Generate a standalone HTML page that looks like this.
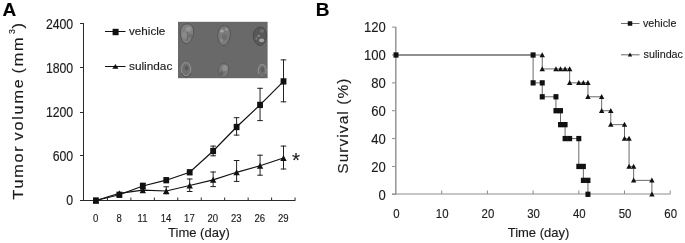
<!DOCTYPE html>
<html><head><meta charset="utf-8"><style>
html,body{margin:0;padding:0;background:#fff;}
svg{display:block;font-family:"Liberation Sans",sans-serif;filter:grayscale(1) blur(0.35px);}
text{stroke:#1c1c1c;stroke-width:0.15px;}
</style></head><body>
<svg width="685" height="243" viewBox="0 0 685 243">
<rect width="685" height="243" fill="#fff"/>
<text x="2.60" y="16.10" font-size="19" text-anchor="start" font-weight="bold" fill="#000">A</text>
<g transform="translate(23.4,199.6) rotate(-90) scale(1.05,1)">
<text x="0" y="0" font-size="15.4" fill="#1c1c1c" letter-spacing="1.72" word-spacing="-2.1">Tumor volume (mm<tspan font-size="8.4" dy="-8.4" dx="1.7">3</tspan><tspan dy="8.4" dx="-1.1">)</tspan></text>
</g>
<line x1="80.00" y1="23.50" x2="84.00" y2="23.50" stroke="#2a2a2a" stroke-width="1"/>
<text transform="translate(73.20,29.00) scale(0.890,1)" font-size="13.8" text-anchor="end" font-weight="normal" fill="#1c1c1c">2400</text>
<line x1="80.00" y1="67.50" x2="84.00" y2="67.50" stroke="#2a2a2a" stroke-width="1"/>
<text transform="translate(73.20,73.10) scale(0.890,1)" font-size="13.8" text-anchor="end" font-weight="normal" fill="#1c1c1c">1800</text>
<line x1="80.00" y1="112.50" x2="84.00" y2="112.50" stroke="#2a2a2a" stroke-width="1"/>
<text transform="translate(73.20,117.20) scale(0.890,1)" font-size="13.8" text-anchor="end" font-weight="normal" fill="#1c1c1c">1200</text>
<line x1="80.00" y1="155.50" x2="84.00" y2="155.50" stroke="#2a2a2a" stroke-width="1"/>
<text transform="translate(73.20,161.30) scale(0.890,1)" font-size="13.8" text-anchor="end" font-weight="normal" fill="#1c1c1c">600</text>
<line x1="80.00" y1="200.50" x2="84.00" y2="200.50" stroke="#2a2a2a" stroke-width="1"/>
<text transform="translate(73.20,205.40) scale(0.890,1)" font-size="13.8" text-anchor="end" font-weight="normal" fill="#1c1c1c">0</text>
<line x1="83.50" y1="23.50" x2="83.50" y2="201.00" stroke="#2a2a2a" stroke-width="1"/>
<line x1="80.00" y1="200.50" x2="295.50" y2="200.50" stroke="#2a2a2a" stroke-width="1"/>
<line x1="107.45" y1="197.50" x2="107.45" y2="200.00" stroke="#2a2a2a" stroke-width="1"/>
<line x1="130.90" y1="197.50" x2="130.90" y2="200.00" stroke="#2a2a2a" stroke-width="1"/>
<line x1="154.35" y1="197.50" x2="154.35" y2="200.00" stroke="#2a2a2a" stroke-width="1"/>
<line x1="177.80" y1="197.50" x2="177.80" y2="200.00" stroke="#2a2a2a" stroke-width="1"/>
<line x1="201.25" y1="197.50" x2="201.25" y2="200.00" stroke="#2a2a2a" stroke-width="1"/>
<line x1="224.70" y1="197.50" x2="224.70" y2="200.00" stroke="#2a2a2a" stroke-width="1"/>
<line x1="248.15" y1="197.50" x2="248.15" y2="200.00" stroke="#2a2a2a" stroke-width="1"/>
<line x1="271.60" y1="197.50" x2="271.60" y2="200.00" stroke="#2a2a2a" stroke-width="1"/>
<line x1="295.05" y1="197.50" x2="295.05" y2="200.00" stroke="#2a2a2a" stroke-width="1"/>
<text transform="translate(95.60,221.60) scale(0.870,1)" font-size="11" text-anchor="middle" font-weight="normal" fill="#1c1c1c">0</text>
<text transform="translate(119.05,221.60) scale(0.870,1)" font-size="11" text-anchor="middle" font-weight="normal" fill="#1c1c1c">8</text>
<text transform="translate(142.50,221.60) scale(0.870,1)" font-size="11" text-anchor="middle" font-weight="normal" fill="#1c1c1c">11</text>
<text transform="translate(165.95,221.60) scale(0.870,1)" font-size="11" text-anchor="middle" font-weight="normal" fill="#1c1c1c">14</text>
<text transform="translate(189.40,221.60) scale(0.870,1)" font-size="11" text-anchor="middle" font-weight="normal" fill="#1c1c1c">17</text>
<text transform="translate(212.85,221.60) scale(0.870,1)" font-size="11" text-anchor="middle" font-weight="normal" fill="#1c1c1c">20</text>
<text transform="translate(236.30,221.60) scale(0.870,1)" font-size="11" text-anchor="middle" font-weight="normal" fill="#1c1c1c">23</text>
<text transform="translate(259.75,221.60) scale(0.870,1)" font-size="11" text-anchor="middle" font-weight="normal" fill="#1c1c1c">26</text>
<text transform="translate(283.20,221.60) scale(0.870,1)" font-size="11" text-anchor="middle" font-weight="normal" fill="#1c1c1c">29</text>
<text x="198.90" y="236.60" font-size="13" text-anchor="middle" font-weight="normal" fill="#1c1c1c">Time (day)</text>
<line x1="142.80" y1="182.80" x2="142.80" y2="189.50" stroke="#222" stroke-width="1"/>
<line x1="140.00" y1="183.30" x2="145.60" y2="183.30" stroke="#222" stroke-width="1"/>
<line x1="140.00" y1="189.00" x2="145.60" y2="189.00" stroke="#222" stroke-width="1"/>
<line x1="213.15" y1="145.60" x2="213.15" y2="156.30" stroke="#222" stroke-width="1"/>
<line x1="210.35" y1="146.10" x2="215.95" y2="146.10" stroke="#222" stroke-width="1"/>
<line x1="210.35" y1="155.80" x2="215.95" y2="155.80" stroke="#222" stroke-width="1"/>
<line x1="236.60" y1="117.20" x2="236.60" y2="135.60" stroke="#222" stroke-width="1"/>
<line x1="233.80" y1="117.70" x2="239.40" y2="117.70" stroke="#222" stroke-width="1"/>
<line x1="233.80" y1="135.10" x2="239.40" y2="135.10" stroke="#222" stroke-width="1"/>
<line x1="260.05" y1="87.80" x2="260.05" y2="121.10" stroke="#222" stroke-width="1"/>
<line x1="257.25" y1="88.30" x2="262.85" y2="88.30" stroke="#222" stroke-width="1"/>
<line x1="257.25" y1="120.60" x2="262.85" y2="120.60" stroke="#222" stroke-width="1"/>
<line x1="283.50" y1="59.40" x2="283.50" y2="102.30" stroke="#222" stroke-width="1"/>
<line x1="280.70" y1="59.90" x2="286.30" y2="59.90" stroke="#222" stroke-width="1"/>
<line x1="280.70" y1="101.80" x2="286.30" y2="101.80" stroke="#222" stroke-width="1"/>
<line x1="166.25" y1="186.30" x2="166.25" y2="194.30" stroke="#222" stroke-width="1"/>
<line x1="163.45" y1="186.80" x2="169.05" y2="186.80" stroke="#222" stroke-width="1"/>
<line x1="163.45" y1="193.80" x2="169.05" y2="193.80" stroke="#222" stroke-width="1"/>
<line x1="189.70" y1="178.50" x2="189.70" y2="192.00" stroke="#222" stroke-width="1"/>
<line x1="186.90" y1="179.00" x2="192.50" y2="179.00" stroke="#222" stroke-width="1"/>
<line x1="186.90" y1="191.50" x2="192.50" y2="191.50" stroke="#222" stroke-width="1"/>
<line x1="213.15" y1="171.50" x2="213.15" y2="187.10" stroke="#222" stroke-width="1"/>
<line x1="210.35" y1="172.00" x2="215.95" y2="172.00" stroke="#222" stroke-width="1"/>
<line x1="210.35" y1="186.60" x2="215.95" y2="186.60" stroke="#222" stroke-width="1"/>
<line x1="236.60" y1="160.00" x2="236.60" y2="181.90" stroke="#222" stroke-width="1"/>
<line x1="233.80" y1="160.50" x2="239.40" y2="160.50" stroke="#222" stroke-width="1"/>
<line x1="233.80" y1="181.40" x2="239.40" y2="181.40" stroke="#222" stroke-width="1"/>
<line x1="260.05" y1="154.70" x2="260.05" y2="175.70" stroke="#222" stroke-width="1"/>
<line x1="257.25" y1="155.20" x2="262.85" y2="155.20" stroke="#222" stroke-width="1"/>
<line x1="257.25" y1="175.20" x2="262.85" y2="175.20" stroke="#222" stroke-width="1"/>
<line x1="283.50" y1="145.60" x2="283.50" y2="169.50" stroke="#222" stroke-width="1"/>
<line x1="280.70" y1="146.10" x2="286.30" y2="146.10" stroke="#222" stroke-width="1"/>
<line x1="280.70" y1="169.00" x2="286.30" y2="169.00" stroke="#222" stroke-width="1"/>
<polyline points="95.90,200.50 119.35,194.80 142.80,186.00 166.25,180.20 189.70,172.30 213.15,151.00 236.60,127.00 260.05,104.90 283.50,81.40" fill="none" stroke="#111" stroke-width="1.2"/>
<polyline points="95.90,200.50 119.35,193.30 142.80,190.20 166.25,191.00 189.70,185.50 213.15,179.80 236.60,172.30 260.05,165.80 283.50,158.00" fill="none" stroke="#111" stroke-width="1.2"/>
<rect x="93.00" y="197.35" width="5.8" height="6.3" fill="#111"/>
<rect x="116.45" y="191.65" width="5.8" height="6.3" fill="#111"/>
<rect x="139.90" y="182.85" width="5.8" height="6.3" fill="#111"/>
<rect x="163.35" y="177.05" width="5.8" height="6.3" fill="#111"/>
<rect x="186.80" y="169.15" width="5.8" height="6.3" fill="#111"/>
<rect x="210.25" y="147.85" width="5.8" height="6.3" fill="#111"/>
<rect x="233.70" y="123.85" width="5.8" height="6.3" fill="#111"/>
<rect x="257.15" y="101.75" width="5.8" height="6.3" fill="#111"/>
<rect x="280.60" y="78.25" width="5.8" height="6.3" fill="#111"/>
<path d="M92.70 203.45L99.10 203.45L95.90 197.55Z" fill="#111"/>
<path d="M116.15 196.25L122.55 196.25L119.35 190.35Z" fill="#111"/>
<path d="M139.60 193.15L146.00 193.15L142.80 187.25Z" fill="#111"/>
<path d="M163.05 193.95L169.45 193.95L166.25 188.05Z" fill="#111"/>
<path d="M186.50 188.45L192.90 188.45L189.70 182.55Z" fill="#111"/>
<path d="M209.95 182.75L216.35 182.75L213.15 176.85Z" fill="#111"/>
<path d="M233.40 175.25L239.80 175.25L236.60 169.35Z" fill="#111"/>
<path d="M256.85 168.75L263.25 168.75L260.05 162.85Z" fill="#111"/>
<path d="M280.30 160.95L286.70 160.95L283.50 155.05Z" fill="#111"/>
<text x="295.90" y="166.50" font-size="20.5" text-anchor="middle" font-weight="normal" fill="#1c1c1c">*</text>
<line x1="105.00" y1="31.50" x2="125.50" y2="31.50" stroke="#111" stroke-width="1"/>
<rect x="112.60" y="28.80" width="6" height="6.4" fill="#111"/>
<text transform="translate(129.00,35.20) scale(0.990,1)" font-size="11.8" text-anchor="start" font-weight="normal" fill="#1c1c1c">vehicle</text>
<line x1="105.00" y1="66.50" x2="125.50" y2="66.50" stroke="#111" stroke-width="1"/>
<path d="M112.30 68.80L118.50 68.80L115.40 64.00Z" fill="#111"/>
<text x="129.00" y="70.20" font-size="11.8" text-anchor="start" font-weight="normal" fill="#1c1c1c">sulindac</text>
<defs>
<radialGradient id="bl" cx="0.6" cy="0.38" r="0.62" fx="0.62" fy="0.32"><stop offset="0" stop-color="#8b9093"/><stop offset="0.55" stop-color="#74797c"/><stop offset="0.85" stop-color="#585c5f"/><stop offset="1" stop-color="#45494c"/></radialGradient>
<radialGradient id="bd" cx="0.5" cy="0.45" r="0.6"><stop offset="0" stop-color="#4a4f53"/><stop offset="0.8" stop-color="#4f5457"/><stop offset="1" stop-color="#5a5e61"/></radialGradient>
<filter id="sf" x="-0.2" y="-0.2" width="1.4" height="1.4"><feGaussianBlur stdDeviation="0.55"/></filter>
</defs>
<rect x="178" y="21.8" width="89.6" height="56.4" fill="#656a6d"/>
<g filter="url(#sf)">
<path d="M187.5 23.8 C192 23.8 194 28 193.6 32.5 C193.2 37.5 190 43.6 186.5 43.6 C183 43.6 180.2 38.5 180.2 33 C180.2 27.5 183 23.8 187.5 23.8Z" fill="#7b8083" stroke="#505457" stroke-width="1"/>
<ellipse cx="188.5" cy="29" rx="3" ry="2.6" fill="#8f9497"/>
<ellipse cx="184.5" cy="35" rx="2.5" ry="3.5" fill="#868b8e"/>
<path d="M187 32 C188.5 35 188 38 186.5 41" fill="none" stroke="#5d6164" stroke-width="1"/>
<ellipse cx="190.5" cy="36" rx="1.6" ry="2.2" fill="#6b7073"/>
<path d="M224.5 25.7 C228.5 25.7 230.6 29.5 230.4 34 C230.2 39.5 227 45.5 224 45.5 C220.5 45.5 217.7 40.5 217.7 35.5 C217.7 30 220.5 25.7 224.5 25.7Z" fill="#777c7f" stroke="#505457" stroke-width="1"/>
<ellipse cx="222" cy="31" rx="1.8" ry="1.6" fill="#a3a7a9"/>
<ellipse cx="226.5" cy="29.5" rx="1.5" ry="1.3" fill="#959a9c"/>
<ellipse cx="224.5" cy="37" rx="2.6" ry="3" fill="#6a6f72"/>
<ellipse cx="221.5" cy="40.5" rx="1.6" ry="1.8" fill="#858a8d"/>
<path d="M260.5 27.2 C264.5 27.4 266.6 31 266.4 35.5 C266.2 41 263.5 45.5 260.3 45.5 C256.8 45.5 253.3 41 253.3 35.5 C253.3 30.5 256.5 27 260.5 27.2Z" fill="#54595c" stroke="#45494c" stroke-width="1"/>
<ellipse cx="262" cy="31" rx="2.2" ry="1.8" fill="#6c7174"/>
<ellipse cx="261.6" cy="40.3" rx="2.6" ry="1.9" fill="#a0a4a6"/>
<ellipse cx="258.8" cy="36" rx="1.3" ry="1.1" fill="#8a8f91"/>
<ellipse cx="256.3" cy="38.5" rx="1.1" ry="1.5" fill="#73777a"/>
<ellipse cx="186" cy="69.2" rx="4.6" ry="6.5" fill="#6a6f72" stroke="#878c8f" stroke-width="1.3"/>
<ellipse cx="186.5" cy="68" rx="1.8" ry="2.5" fill="#575b5e"/>
<path d="M181.8 73 C183 76.5 185 77 186.2 77 C188 77 189.8 75.8 190.6 73" fill="none" stroke="#4a4e51" stroke-width="1"/>
<ellipse cx="223.5" cy="70.4" rx="5.3" ry="6.9" fill="#74797c" stroke="#55595c" stroke-width="0.9"/>
<ellipse cx="225" cy="68" rx="2.8" ry="3" fill="#8b9093"/>
<ellipse cx="221.5" cy="73.5" rx="2" ry="2.2" fill="#5e6265"/>
<ellipse cx="262.2" cy="70.7" rx="3.9" ry="6.2" fill="#6a6f72" stroke="#878c8f" stroke-width="1.3"/>
<ellipse cx="262.6" cy="69.5" rx="1.4" ry="2.6" fill="#585c5f"/>
<path d="M258.8 74 C259.6 76.6 261 77.3 262.2 77.3 C263.5 77.3 264.8 76.6 265.6 74" fill="none" stroke="#4a4e51" stroke-width="1"/>
</g>
<text x="315.80" y="16.10" font-size="19" text-anchor="start" font-weight="bold" fill="#000">B</text>
<g transform="translate(348.3,173.7) rotate(-90)">
<text x="0" y="0" font-size="15.5" fill="#1c1c1c" letter-spacing="1.05">Survival (%)</text>
</g>
<line x1="392.00" y1="27.14" x2="396.00" y2="27.14" stroke="#8c8c8c" stroke-width="1"/>
<text transform="translate(385.70,31.60) scale(0.850,1)" font-size="15.4" text-anchor="end" font-weight="normal" fill="#1c1c1c">120</text>
<line x1="392.00" y1="55.00" x2="396.00" y2="55.00" stroke="#8c8c8c" stroke-width="1"/>
<text transform="translate(385.70,59.65) scale(0.850,1)" font-size="15.4" text-anchor="end" font-weight="normal" fill="#1c1c1c">100</text>
<line x1="392.00" y1="82.86" x2="396.00" y2="82.86" stroke="#8c8c8c" stroke-width="1"/>
<text transform="translate(385.70,87.70) scale(0.850,1)" font-size="15.4" text-anchor="end" font-weight="normal" fill="#1c1c1c">80</text>
<line x1="392.00" y1="110.72" x2="396.00" y2="110.72" stroke="#8c8c8c" stroke-width="1"/>
<text transform="translate(385.70,115.75) scale(0.850,1)" font-size="15.4" text-anchor="end" font-weight="normal" fill="#1c1c1c">60</text>
<line x1="392.00" y1="138.58" x2="396.00" y2="138.58" stroke="#8c8c8c" stroke-width="1"/>
<text transform="translate(385.70,143.80) scale(0.850,1)" font-size="15.4" text-anchor="end" font-weight="normal" fill="#1c1c1c">40</text>
<line x1="392.00" y1="166.44" x2="396.00" y2="166.44" stroke="#8c8c8c" stroke-width="1"/>
<text transform="translate(385.70,171.85) scale(0.850,1)" font-size="15.4" text-anchor="end" font-weight="normal" fill="#1c1c1c">20</text>
<line x1="392.00" y1="194.30" x2="396.00" y2="194.30" stroke="#8c8c8c" stroke-width="1"/>
<text transform="translate(385.70,199.90) scale(0.850,1)" font-size="15.4" text-anchor="end" font-weight="normal" fill="#1c1c1c">0</text>
<line x1="395.80" y1="27.00" x2="395.80" y2="194.50" stroke="#959595" stroke-width="1.5"/>
<line x1="392.00" y1="194.00" x2="670.50" y2="194.00" stroke="#8c8c8c" stroke-width="1"/>
<line x1="441.70" y1="190.50" x2="441.70" y2="194.00" stroke="#8c8c8c" stroke-width="1"/>
<line x1="487.40" y1="190.50" x2="487.40" y2="194.00" stroke="#8c8c8c" stroke-width="1"/>
<line x1="533.10" y1="190.50" x2="533.10" y2="194.00" stroke="#8c8c8c" stroke-width="1"/>
<line x1="578.80" y1="190.50" x2="578.80" y2="194.00" stroke="#8c8c8c" stroke-width="1"/>
<line x1="624.50" y1="190.50" x2="624.50" y2="194.00" stroke="#8c8c8c" stroke-width="1"/>
<line x1="670.20" y1="190.50" x2="670.20" y2="194.00" stroke="#8c8c8c" stroke-width="1"/>
<text transform="translate(396.50,218.40) scale(0.930,1)" font-size="12.3" text-anchor="middle" font-weight="normal" fill="#1c1c1c">0</text>
<text transform="translate(442.20,218.40) scale(0.930,1)" font-size="12.3" text-anchor="middle" font-weight="normal" fill="#1c1c1c">10</text>
<text transform="translate(487.90,218.40) scale(0.930,1)" font-size="12.3" text-anchor="middle" font-weight="normal" fill="#1c1c1c">20</text>
<text transform="translate(533.60,218.40) scale(0.930,1)" font-size="12.3" text-anchor="middle" font-weight="normal" fill="#1c1c1c">30</text>
<text transform="translate(579.30,218.40) scale(0.930,1)" font-size="12.3" text-anchor="middle" font-weight="normal" fill="#1c1c1c">40</text>
<text transform="translate(625.00,218.40) scale(0.930,1)" font-size="12.3" text-anchor="middle" font-weight="normal" fill="#1c1c1c">50</text>
<text transform="translate(670.70,218.40) scale(0.930,1)" font-size="12.3" text-anchor="middle" font-weight="normal" fill="#1c1c1c">60</text>
<text x="538.50" y="236.60" font-size="13" text-anchor="middle" font-weight="normal" fill="#1c1c1c">Time (day)</text>
<polyline points="396.00,55.00 533.10,55.00 533.10,82.86 542.24,82.86 542.24,96.79 555.95,96.79 555.95,110.72 560.52,110.72 560.52,124.65 565.09,124.65 565.09,138.58 569.66,138.58 578.80,138.58 578.80,166.44 583.37,166.44 583.37,180.37 587.94,180.37 587.94,194.30" fill="none" stroke="#6a6a6a" stroke-width="1"/>
<polyline points="396.00,55.00 542.24,55.00 542.24,68.93 555.95,68.93 560.52,68.93 565.09,68.93 569.66,68.93 569.66,82.86 578.80,82.86 583.37,82.86 587.94,82.86 587.94,96.79 601.65,96.79 601.65,110.72 610.79,110.72 610.79,124.65 624.50,124.65 624.50,138.58 629.07,138.58 629.07,166.44 633.64,166.44 633.64,180.37 651.92,180.37 651.92,194.30" fill="none" stroke="#6a6a6a" stroke-width="1"/>
<rect x="393.50" y="52.35" width="5" height="5.3" fill="#111"/>
<rect x="530.60" y="52.35" width="5" height="5.3" fill="#111"/>
<rect x="530.60" y="80.21" width="5" height="5.3" fill="#111"/>
<rect x="539.74" y="80.21" width="5" height="5.3" fill="#111"/>
<rect x="539.74" y="94.14" width="5" height="5.3" fill="#111"/>
<rect x="553.45" y="94.14" width="5" height="5.3" fill="#111"/>
<rect x="553.45" y="108.07" width="5" height="5.3" fill="#111"/>
<rect x="558.02" y="108.07" width="5" height="5.3" fill="#111"/>
<rect x="558.02" y="122.00" width="5" height="5.3" fill="#111"/>
<rect x="562.59" y="122.00" width="5" height="5.3" fill="#111"/>
<rect x="562.59" y="135.93" width="5" height="5.3" fill="#111"/>
<rect x="567.16" y="135.93" width="5" height="5.3" fill="#111"/>
<rect x="576.30" y="135.93" width="5" height="5.3" fill="#111"/>
<rect x="576.30" y="163.79" width="5" height="5.3" fill="#111"/>
<rect x="580.87" y="163.79" width="5" height="5.3" fill="#111"/>
<rect x="580.87" y="177.72" width="5" height="5.3" fill="#111"/>
<rect x="585.44" y="177.72" width="5" height="5.3" fill="#111"/>
<rect x="585.44" y="191.65" width="5" height="5.3" fill="#111"/>
<path d="M539.54 57.20L544.94 57.20L542.24 52.20Z" fill="#111"/>
<path d="M539.54 71.13L544.94 71.13L542.24 66.13Z" fill="#111"/>
<path d="M553.25 71.13L558.65 71.13L555.95 66.13Z" fill="#111"/>
<path d="M557.82 71.13L563.22 71.13L560.52 66.13Z" fill="#111"/>
<path d="M562.39 71.13L567.79 71.13L565.09 66.13Z" fill="#111"/>
<path d="M566.96 71.13L572.36 71.13L569.66 66.13Z" fill="#111"/>
<path d="M566.96 85.06L572.36 85.06L569.66 80.06Z" fill="#111"/>
<path d="M576.10 85.06L581.50 85.06L578.80 80.06Z" fill="#111"/>
<path d="M580.67 85.06L586.07 85.06L583.37 80.06Z" fill="#111"/>
<path d="M585.24 85.06L590.64 85.06L587.94 80.06Z" fill="#111"/>
<path d="M585.24 98.99L590.64 98.99L587.94 93.99Z" fill="#111"/>
<path d="M598.95 98.99L604.35 98.99L601.65 93.99Z" fill="#111"/>
<path d="M598.95 112.92L604.35 112.92L601.65 107.92Z" fill="#111"/>
<path d="M608.09 112.92L613.49 112.92L610.79 107.92Z" fill="#111"/>
<path d="M608.09 126.85L613.49 126.85L610.79 121.85Z" fill="#111"/>
<path d="M621.80 126.85L627.20 126.85L624.50 121.85Z" fill="#111"/>
<path d="M621.80 140.78L627.20 140.78L624.50 135.78Z" fill="#111"/>
<path d="M626.37 140.78L631.77 140.78L629.07 135.78Z" fill="#111"/>
<path d="M626.37 168.64L631.77 168.64L629.07 163.64Z" fill="#111"/>
<path d="M630.94 168.64L636.34 168.64L633.64 163.64Z" fill="#111"/>
<path d="M630.94 182.57L636.34 182.57L633.64 177.57Z" fill="#111"/>
<path d="M649.22 182.57L654.62 182.57L651.92 177.57Z" fill="#111"/>
<path d="M649.22 196.50L654.62 196.50L651.92 191.50Z" fill="#111"/>
<line x1="621.00" y1="23.50" x2="639.50" y2="23.50" stroke="#6a6a6a" stroke-width="1"/>
<rect x="627.75" y="21.25" width="4.5" height="4.5" fill="#111"/>
<text transform="translate(643.00,26.80) scale(0.910,1)" font-size="11.8" text-anchor="start" font-weight="normal" fill="#1c1c1c">vehicle</text>
<line x1="621.00" y1="54.80" x2="639.50" y2="54.80" stroke="#6a6a6a" stroke-width="1"/>
<path d="M627.80 56.40L632.20 56.40L630.00 52.40Z" fill="#111"/>
<text transform="translate(643.60,58.20) scale(0.910,1)" font-size="11.8" text-anchor="start" font-weight="normal" fill="#1c1c1c">sulindac</text>
</svg>
</body></html>
